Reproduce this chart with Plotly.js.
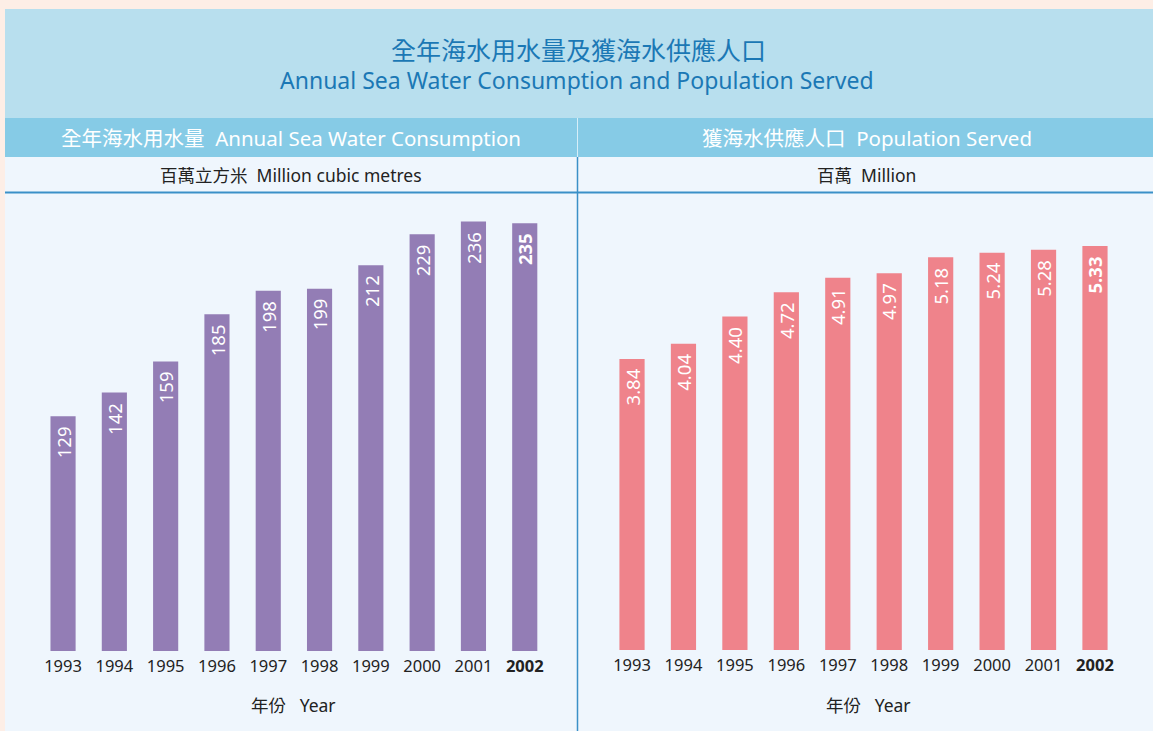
<!DOCTYPE html>
<html><head><meta charset="utf-8">
<script src="https://cdn.plot.ly/plotly-3.0.1.min.js"></script>
<style>html,body{margin:0;padding:0;background:#fdeee6;}</style>
</head><body>
<div id="chart" style="width:1153px;height:731px;"></div>
<script>
const years = ['1993','1994','1995','1996','1997','1998','1999','2000','2001','2002'];
const yearLabels = ['1993','1994','1995','1996','1997','1998','1999','2000','2001','<b>2002</b>'];
const consumption = [129,142,159,185,198,199,212,229,236,235];
const population = [3.84,4.04,4.40,4.72,4.91,4.97,5.18,5.24,5.28,5.33];
const consumptionLabels = ['129','142','159','185','198','199','212','229','236','<b>235</b>'];
const populationLabels = ['3.84','4.04','4.40','4.72','4.91','4.97','5.18','5.24','5.28','<b>5.33</b>'];

const W = 1153, H = 731;
const px = v => v / W;
const py = v => 1 - v / H;
const FONT = 'Noto Sans, "Noto Sans CJK TC", sans-serif';

const traces = [
  {type:'bar', x:years, y:consumption, xaxis:'x', yaxis:'y', marker:{color:'#937db5'}, hoverinfo:'none'},
  {type:'bar', x:years, y:population, xaxis:'x2', yaxis:'y2', marker:{color:'#ef838b'}, hoverinfo:'none'}
];

const annotations = [];
function addLabels(vals, labels, xa, ya) {
  vals.forEach((v, i) => {
    annotations.push({x: i, y: v, xref: xa, yref: ya, text: labels[i], showarrow: false,
      textangle: -90, yanchor: 'top', xanchor: 'center', yshift: -8,
      font: {family: FONT, size: 18.5, color: '#ffffff'}});
  });
}
addLabels(consumption, consumptionLabels, 'x', 'y');
addLabels(population, populationLabels, 'x2', 'y2');

function paperText(text, x, y, size, color, extra) {
  annotations.push(Object.assign({text, x: px(x), y: py(y), xref: 'paper', yref: 'paper',
    showarrow: false, xanchor: 'center', yanchor: 'middle',
    font: {family: FONT, size, color}}, extra || {}));
}
paperText('全年海水用水量及獲海水供應人口', 578, 50, 25, '#1b78b5');
paperText('Annual Sea Water Consumption and Population Served', 577, 80, 23, '#1b78b5');
paperText('全年海水用水量  Annual Sea Water Consumption', 291, 138, 20.5, '#ffffff');
paperText('獲海水供應人口  Population Served', 867, 138, 20.5, '#ffffff');
paperText('百萬立方米  Million cubic metres', 291, 175, 17.5, '#222222');
paperText('百萬  Million', 866, 175, 17.5, '#222222');
paperText('年份   Year', 293, 705, 17.5, '#222222');
paperText('年份   Year', 868, 705, 17.5, '#222222');

const shapes = [
  {type:'rect', xref:'paper', yref:'paper', x0:px(5), x1:1, y0:py(118), y1:py(9), fillcolor:'#b8dfee', line:{width:0}, layer:'below'},
  {type:'rect', xref:'paper', yref:'paper', x0:px(5), x1:1, y0:py(157), y1:py(118), fillcolor:'#86cbe6', line:{width:0}, layer:'below'},
  {type:'rect', xref:'paper', yref:'paper', x0:px(5), x1:1, y0:0, y1:py(157), fillcolor:'#eff6fd', line:{width:0}, layer:'below'},
  {type:'line', xref:'paper', yref:'paper', x0:px(5), x1:1, y0:py(192.5), y1:py(192.5), line:{color:'#3a90c8', width:2}},
  {type:'line', xref:'paper', yref:'paper', x0:px(577.5), x1:px(577.5), y0:py(118), y1:py(157), line:{color:'#d6eef8', width:1}},
  {type:'line', xref:'paper', yref:'paper', x0:px(577.5), x1:px(577.5), y0:0, y1:py(157), line:{color:'#3a90c8', width:1.5}}
];

const xbase = {type:'category', showgrid:false, zeroline:false, showline:false, ticks:'',
  range:[-0.5, 9.5], autorange:false,
  tickvals: years, ticktext: yearLabels, ticklabelstandoff: 3,
  tickfont:{family: FONT, size:16.5, color:'#222222'}, fixedrange:true};
const ybase = {showgrid:false, zeroline:false, showline:false, showticklabels:false, ticks:'', fixedrange:true, autorange:false};

const layout = {
  width: W, height: H, margin:{l:0,r:0,t:0,b:0},
  paper_bgcolor:'#fdeee6', plot_bgcolor:'rgba(0,0,0,0)',
  showlegend:false, bargap:0.51,
  xaxis: Object.assign({}, xbase, {domain:[px(37.4), px(550.4)], anchor:'y'}),
  yaxis: Object.assign({}, ybase, {domain:[py(651), py(200)], range:[0, 451/1.82], anchor:'x'}),
  xaxis2: Object.assign({}, xbase, {domain:[px(606.3), px(1120.7)], anchor:'y2'}),
  yaxis2: Object.assign({}, ybase, {domain:[py(650), py(200)], range:[0, 450/75.8], anchor:'x2'}),
  shapes, annotations
};
Plotly.newPlot('chart', traces, layout, {staticPlot:true, displayModeBar:false});
</script>
</body></html>
